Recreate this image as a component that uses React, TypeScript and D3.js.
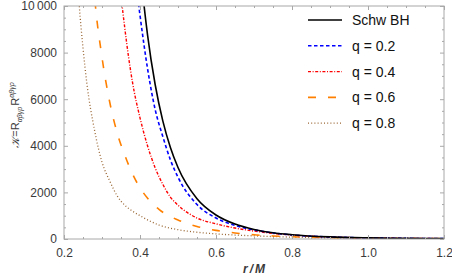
import { useEffect, useRef } from 'react';
import * as d3 from 'd3';

// values (r/M, Kretschmann scalar)
const rSchw = [0.39, 0.40, 0.42, 0.44, 0.46, 0.48, 0.50, 0.55, 0.60, 0.65, 0.70, 0.75, 0.80, 0.90, 1.00, 1.10, 1.20];
const kSchw = [13600, 11720, 8740, 6620, 5070, 3930, 3070, 1730, 1030, 640, 410, 270, 185, 90, 48, 27, 16];

const rQ02 = [0.38, 0.39, 0.40, 0.42, 0.44, 0.46, 0.48, 0.50, 0.55, 0.60, 0.65, 0.70, 0.75, 0.80, 0.90, 1.00, 1.10, 1.20];
const kQ02 = [12400, 10900, 9600, 7300, 5550, 4400, 3400, 2650, 1480, 900, 580, 390, 260, 175, 88, 47, 27, 16];

const rQ04 = [0.34, 0.35, 0.36, 0.38, 0.40, 0.42, 0.44, 0.46, 0.48, 0.50, 0.55, 0.60, 0.65, 0.70, 0.75, 0.80, 0.90, 1.00, 1.10, 1.20];
const kQ04 = [12600, 10500, 9050, 6750, 5200, 3990, 3050, 2350, 1800, 1450, 900, 650, 470, 340, 240, 170, 85, 46, 26, 16];

const rQ06 = [0.27, 0.28, 0.30, 0.32, 0.34, 0.36, 0.38, 0.40, 0.42, 0.45, 0.50, 0.55, 0.60, 0.65, 0.70, 0.75, 0.80, 0.90, 1.00, 1.10, 1.20];
const kQ06 = [12800, 10500, 7800, 5900, 4550, 3600, 2800, 2200, 1750, 1270, 815, 540, 370, 260, 180, 130, 95, 55, 33, 21, 14];

const rQ08 = [0.23, 0.24, 0.25, 0.26, 0.28, 0.30, 0.32, 0.34, 0.36, 0.38, 0.40, 0.45, 0.50, 0.55, 0.60, 0.65, 0.70, 0.75, 0.80, 0.90, 1.00, 1.10, 1.20];
const kQ08 = [12600, 10050, 8200, 6700, 4700, 3300, 2500, 1850, 1450, 1200, 1000, 600, 400, 290, 220, 170, 135, 105, 80, 48, 30, 19, 12];

const seriesNames = ['Schw BH', 'q = 0.2', 'q = 0.4', 'q = 0.6', 'q = 0.8'];
const xTicks = [0.2, 0.4, 0.6, 0.8, 1.0, 1.2];
const yTicks = [0, 2000, 4000, 6000, 8000, 10000];

type Pt = { r: number; k: number };

export default function App() {
  const svgRef = useRef<SVGSVGElement>(null);

  useEffect(() => {
    if (!svgRef.current) return;
    const svg = d3.select(svgRef.current);
    svg.selectAll('*').remove();

    const left = 64, right = 444, top = 6, bottom = 239;
    const x = d3.scaleLinear().domain([0.2, 1.2]).range([left, right]);
    const y = d3.scaleLinear().domain([0, 10000]).range([bottom, top]);
    const frameColor = '#a8a8a8';
    const labelColor = '#3a3a3a';
    const font = '"Liberation Sans", Arial, sans-serif';

    svg.append('defs').append('clipPath').attr('id', 'plotclip')
      .append('rect')
      .attr('x', left).attr('y', top)
      .attr('width', right - left).attr('height', bottom - top);

    const styles = [
      { color: '#000000', dash: null as string | null, width: 1.6 },
      { color: '#0000ff', dash: '3.5,2.5', width: 1.6 },
      { color: '#ff0000', dash: '3,1.6,1,1.6', width: 1.4 },
      { color: '#ff8000', dash: '8,12', width: 1.6 },
      { color: '#996633', dash: '1,2.2', width: 1.3 },
    ];

    const makePts = (rs: number[], ks: number[]): Pt[] => rs.map((r, i) => ({ r, k: ks[i] }));
    const data = [
      makePts(rSchw, kSchw),
      makePts(rQ02, kQ02),
      makePts(rQ04, kQ04),
      makePts(rQ06, kQ06),
      makePts(rQ08, kQ08),
    ];

    const line = d3.line<Pt>()
      .x(d => x(d.r))
      .y(d => y(d.k))
      .curve(d3.curveMonotoneX);

    const plot = svg.append('g').attr('clip-path', 'url(#plotclip)');
    // draw in reverse so the Schwarzschild curve sits on top
    data.map((d, i) => ({ d, i })).reverse().forEach(({ d, i }) => {
      plot.append('path')
        .datum(d)
        .attr('fill', 'none')
        .attr('stroke', styles[i].color)
        .attr('stroke-width', styles[i].width)
        .attr('stroke-dasharray', styles[i].dash)
        .attr('d', line);
    });

    // frame
    svg.append('rect')
      .attr('x', left).attr('y', top)
      .attr('width', right - left).attr('height', bottom - top)
      .attr('fill', 'none')
      .attr('stroke', frameColor)
      .attr('stroke-width', 1);

    const xMinor = d3.range(0.2, 1.2001, 0.05).filter(v => Math.abs(v * 5 - Math.round(v * 5)) > 1e-6);
    const yMinor = d3.range(0, 10001, 500).filter(v => v % 2000 !== 0);

    const tick = (g: d3.Selection<SVGGElement, unknown, null, undefined>) => {
      g.select('.domain').remove();
      g.selectAll('.tick line').attr('stroke', frameColor);
      g.selectAll('.tick text')
        .attr('fill', labelColor)
        .style('font-family', font)
        .style('font-size', '12px');
    };

    // bottom
    svg.append('g').attr('transform', `translate(0,${bottom})`)
      .call(d3.axisBottom(x).tickValues(xTicks).tickSizeInner(-4).tickSizeOuter(0).tickPadding(9).tickFormat(d3.format('.1f')) as any)
      .call(tick as any);
    svg.append('g').attr('transform', `translate(0,${bottom})`)
      .call(d3.axisBottom(x).tickValues(xMinor).tickSizeInner(-2).tickSizeOuter(0).tickFormat(() => '') as any)
      .call(tick as any);
    // top
    svg.append('g').attr('transform', `translate(0,${top})`)
      .call(d3.axisTop(x).tickValues(xTicks).tickSizeInner(-4).tickSizeOuter(0).tickFormat(() => '') as any)
      .call(tick as any);
    svg.append('g').attr('transform', `translate(0,${top})`)
      .call(d3.axisTop(x).tickValues(xMinor).tickSizeInner(-2).tickSizeOuter(0).tickFormat(() => '') as any)
      .call(tick as any);
    // left
    svg.append('g').attr('transform', `translate(${left},0)`)
      .call(d3.axisLeft(y).tickValues(yTicks).tickSizeInner(-4).tickSizeOuter(0).tickPadding(7)
        .tickFormat((d: any) => (+d >= 10000 ? '10\u2009000' : String(d))) as any)
      .call(tick as any);
    svg.append('g').attr('transform', `translate(${left},0)`)
      .call(d3.axisLeft(y).tickValues(yMinor).tickSizeInner(-2).tickSizeOuter(0).tickFormat(() => '') as any)
      .call(tick as any);
    // right
    svg.append('g').attr('transform', `translate(${right},0)`)
      .call(d3.axisRight(y).tickValues(yTicks).tickSizeInner(-4).tickSizeOuter(0).tickFormat(() => '') as any)
      .call(tick as any);
    svg.append('g').attr('transform', `translate(${right},0)`)
      .call(d3.axisRight(y).tickValues(yMinor).tickSizeInner(-2).tickSizeOuter(0).tickFormat(() => '') as any)
      .call(tick as any);

    // x label
    const xl = svg.append('text')
      .attr('x', 254).attr('y', 273)
      .attr('text-anchor', 'middle')
      .attr('fill', labelColor)
      .style('font-family', font)
      .style('font-size', '12px')
      .style('font-style', 'italic')
      .style('font-weight', 'bold');
    xl.append('tspan').text('r');
    xl.append('tspan').attr('dx', 2).text('/');
    xl.append('tspan').attr('dx', 2).text('M');

    // y label
    const yl = svg.append('text')
      .attr('transform', 'translate(19,115) rotate(-90)')
      .attr('text-anchor', 'middle')
      .attr('fill', labelColor)
      .style('font-family', font)
      .style('font-size', '11px');
    yl.append('tspan').style('font-style', 'italic').style('font-family', '"DejaVu Serif", serif').text('\u{1D4A6}');
    yl.append('tspan').attr('dx', 1).text('=R');
    yl.append('tspan').attr('dy', 3).style('font-size', '7px').style('font-style', 'italic').text('αβγρ');
    yl.append('tspan').attr('dy', -3).attr('dx', 1).text('R');
    yl.append('tspan').attr('dy', -5).style('font-size', '7px').style('font-style', 'italic').text('αβγρ');

    // legend
    const legendY = [20, 45.8, 71.6, 97.4, 123.2];
    seriesNames.forEach((name, i) => {
      const ly = legendY[i];
      svg.append('line')
        .attr('x1', 308).attr('x2', 342)
        .attr('y1', ly).attr('y2', ly)
        .attr('stroke', styles[i].color)
        .attr('stroke-width', styles[i].width)
        .attr('stroke-dasharray', styles[i].dash);
      svg.append('text')
        .attr('x', 352).attr('y', ly + 5)
        .attr('fill', '#111')
        .style('font-family', font)
        .style('font-size', '14px')
        .text(name);
    });
  }, []);

  return (
    <div style={{ position: 'fixed', left: 0, top: 0, background: '#fff' }}>
      <svg ref={svgRef} width={452} height={278}></svg>
    </div>
  );
}
